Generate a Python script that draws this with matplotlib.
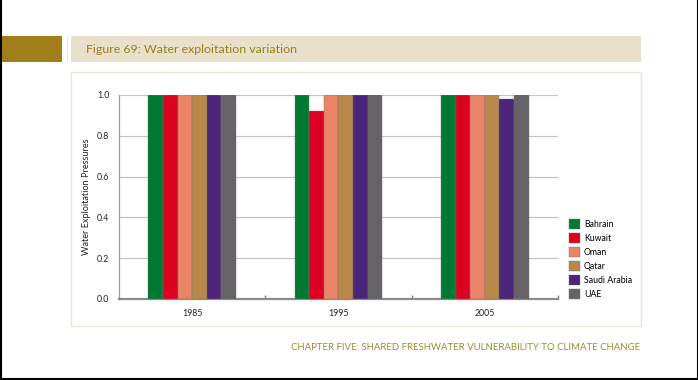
import matplotlib
matplotlib.use("Agg")
import matplotlib.pyplot as plt
from matplotlib.patches import Rectangle
import numpy as np

years = ["1985", "1995", "2005"]
countries = ["Bahrain", "Kuwait", "Oman", "Qatar", "Saudi Arabia", "UAE"]
bahrain = [1.0, 1.0, 1.0]
kuwait = [1.0, 0.92, 1.0]
oman = [1.0, 1.0, 1.0]
qatar = [1.0, 1.0, 1.0]
saudi = [1.0, 1.0, 0.98]
uae = [1.0, 1.0, 1.0]
series = [bahrain, kuwait, oman, qatar, saudi, uae]
colors = ["#007a33", "#dc0021", "#eb8466", "#b8894a", "#4b2579", "#676168"]
yticks = [0.0, 0.2, 0.4, 0.6, 0.8, 1.0]

W, H = 698, 380
fig = plt.figure(figsize=(W / 100, H / 100), dpi=100)
plt.rcParams['font.family'] = ['Lato', 'DejaVu Sans']

def fx(x):
    return x / W

def fy(y):
    return 1 - y / H

# Page border (left, right, bottom)
fig.add_artist(plt.Line2D([fx(0.5), fx(0.5)], [0, 1], color="black", lw=1.5, transform=fig.transFigure))
fig.add_artist(plt.Line2D([fx(697.5), fx(697.5)], [0, 1], color="black", lw=1.5, transform=fig.transFigure))
fig.add_artist(plt.Line2D([0, 1], [fy(379.3), fy(379.3)], color="black", lw=1.5, transform=fig.transFigure))

# Header blocks
fig.add_artist(Rectangle((fx(0), fy(62)), fx(62), (62 - 36) / H, color="#a07f1a", transform=fig.transFigure, lw=0))
fig.add_artist(Rectangle((fx(71), fy(62)), fx(641) - fx(71), (62 - 36) / H, color="#e8e0cb", transform=fig.transFigure, lw=0))
fig.add_artist(plt.Line2D([fx(66.5), fx(66.5)], [fy(36), fy(62)], color="#eee6d3", lw=0.8, transform=fig.transFigure))
fig.text(fx(86), fy(49.5), "Figure 69: Water exploitation variation", color="#9b7e1a",
         fontsize=8.9, va="center", ha="left")

# Panel frame
fig.add_artist(Rectangle((fx(71), fy(326)), fx(641) - fx(71), (326 - 72) / H, facecolor="none",
                         edgecolor="#ece5d0", lw=1.0, transform=fig.transFigure))

# Footer
fig.text(fx(640), fy(348), "CHAPTER FIVE: SHARED FRESHWATER VULNERABILITY TO CLIMATE CHANGE",
         color="#a08a2a", fontsize=6.95, ha="right", va="center")

ax = fig.add_axes([fx(119), fy(299), fx(558) - fx(119), (299 - 95) / H])
x = np.arange(len(years))
bw = 0.6 / len(countries)
for i, (name, vals, c) in enumerate(zip(countries, series, colors)):
    ax.bar(x - 0.3 + bw * (i + 0.5), vals, width=bw, color=c, edgecolor="#7a7070",
           linewidth=0.3, label=name, zorder=3)

ax.set_xlim(-0.5, len(years) - 0.5)
ax.set_ylim(0, 1.0)
ax.set_yticks(yticks)
ax.set_yticklabels([f"{v:.1f}" for v in yticks], fontsize=6.3, color="#222222")
ax.yaxis.grid(True, color="#c4c4c4", lw=0.9, zorder=0)
ax.set_xticks(x)
ax.set_xticklabels(years, fontsize=6.3, color="#222222")
ax.set_xticks(np.arange(0.5, len(years), 1.0), minor=True)
ax.tick_params(axis="x", which="major", length=0, pad=7)
ax.tick_params(axis="x", which="minor", length=3, direction="in", color="#777777", width=1)
ax.tick_params(axis="y", length=0, pad=7)
for s in ["top", "right"]:
    ax.spines[s].set_visible(False)
ax.spines["bottom"].set_color("#8a8a8a")
ax.spines["bottom"].set_linewidth(1.6)
ax.spines["left"].set_color("#999999")
ax.spines["left"].set_linewidth(0.9)
ax.set_ylabel("Water Exploitation Pressures", fontsize=6.6, color="#222222", labelpad=4)

handles, labels = ax.get_legend_handles_labels()
fig.legend(handles, labels, loc="upper left", bbox_to_anchor=(fx(569), fy(219)), frameon=False,
           fontsize=6.3, handlelength=1.3, handleheight=1.3, handletextpad=0.4,
           labelspacing=0.5, borderpad=0, borderaxespad=0)

fig.savefig("out.png", dpi=100)
